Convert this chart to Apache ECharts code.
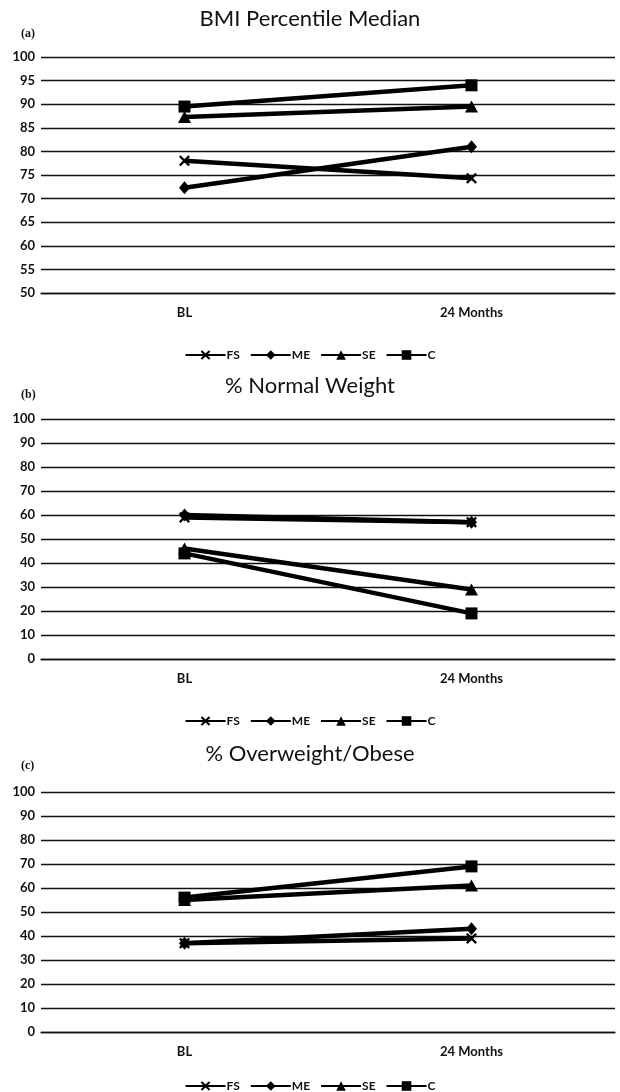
<!DOCTYPE html>
<html>
<head>
<meta charset="utf-8">
<script src="https://cdn.jsdelivr.net/npm/echarts@6/dist/echarts.min.js"></script>
<style>html,body{margin:0;padding:0;background:#fff}#c{width:620px;height:1092px}</style>
</head>
<body>
<div id="c"></div>
<script>
var categories = ['BL', '24 Months'];
var seriesNames = ['FS', 'ME', 'SE', 'C'];
var panelTitles = ['BMI Percentile Median', '% Normal Weight', '% Overweight/Obese'];
var panelLabels = ['(a)', '(b)', '(c)'];
// panel (a) BMI percentile median
var bmiFS = [78, 74.3];
var bmiME = [72.3, 81];
var bmiSE = [87.3, 89.5];
var bmiC = [89.5, 94];
// panel (b) % normal weight
var nwFS = [59, 57];
var nwME = [60, 57];
var nwSE = [46, 29];
var nwC = [44, 19];
// panel (c) % overweight/obese
var owFS = [37, 39];
var owME = [37, 43];
var owSE = [55, 61];
var owC = [56, 69];
var yMins = [50, 0, 0];
var yMaxs = [100, 100, 100];
var yIntervals = [5, 10, 10];

var panelData = [[bmiFS, bmiME, bmiSE, bmiC], [nwFS, nwME, nwSE, nwC], [owFS, owME, owSE, owC]];

var crossPath = 'path://M0,1.5 L1.5,0 L5,3.5 L8.5,0 L10,1.5 L6.5,5 L10,8.5 L8.5,10 L5,6.5 L1.5,10 L0,8.5 L3.5,5 Z';
var symbols = [crossPath, 'diamond', 'triangle', 'rect'];
var symbolSizes = [[11, 11], [11, 13], [13, 12], [12, 12]];

var layout = [
  {top: 57, height: 236, titleTop: 3, labelTop: 23, legendTop: 344},
  {top: 419, height: 240, titleTop: 370, labelTop: 384, legendTop: 710},
  {top: 792, height: 240, titleTop: 738, labelTop: 755, legendTop: 1075}
];

var font = 'Lato, "Open Sans", sans-serif';
var titles = [], grids = [], xAxes = [], yAxes = [], legends = [], series = [];
layout.forEach(function (L, p) {
  titles.push({text: panelTitles[p], left: 'center', top: L.titleTop,
    textStyle: {fontFamily: font, fontSize: 22, fontWeight: 'normal', color: '#111'}});
  titles.push({text: panelLabels[p], left: 16, top: L.labelTop,
    textStyle: {fontFamily: '"Liberation Serif", serif', fontSize: 12, fontWeight: 'bold', color: '#111'}});
  grids.push({left: 41, right: 5, top: L.top, height: L.height});
  xAxes.push({type: 'category', gridIndex: p, data: categories, boundaryGap: true,
    axisLine: {show: true, lineStyle: {color: '#111', width: 1.3}},
    axisTick: {show: false},
    axisLabel: {margin: 13, fontFamily: font, fontSize: 13, color: '#111', fontWeight: 'bold'}});
  yAxes.push({type: 'value', gridIndex: p, min: yMins[p], max: yMaxs[p], interval: yIntervals[p],
    axisLine: {show: false}, axisTick: {show: false},
    axisLabel: {margin: 6, fontFamily: font, fontSize: 13, color: '#111', fontWeight: 'bold'},
    splitLine: {show: true, lineStyle: {color: '#111', width: 1.3}}});
  legends.push({top: L.legendTop, left: 'center', itemWidth: 40, itemHeight: 12, itemGap: 10,
    data: seriesNames.map(function (n) { return {name: n}; }),
    textStyle: {fontFamily: font, fontSize: 12, color: '#111', fontWeight: 'bold', padding: [0, 0, 0, -4]},
    selectedMode: false});
  panelData[p].forEach(function (vals, s) {
    series.push({name: seriesNames[s], type: 'line', xAxisIndex: p, yAxisIndex: p,
      data: vals, symbol: symbols[s], symbolSize: symbolSizes[s], showAllSymbol: true,
      lineStyle: {color: '#000', width: 4.5}, itemStyle: {color: '#000'},
      emphasis: {disabled: true}, animation: false, z: 3 + s});
  });
});

var chart = echarts.init(document.getElementById('c'), null, {renderer: 'canvas'});
chart.setOption({
  backgroundColor: '#fff',
  animation: false,
  title: titles,
  grid: grids,
  xAxis: xAxes,
  yAxis: yAxes,
  legend: legends,
  series: series
});
</script>
</body>
</html>
